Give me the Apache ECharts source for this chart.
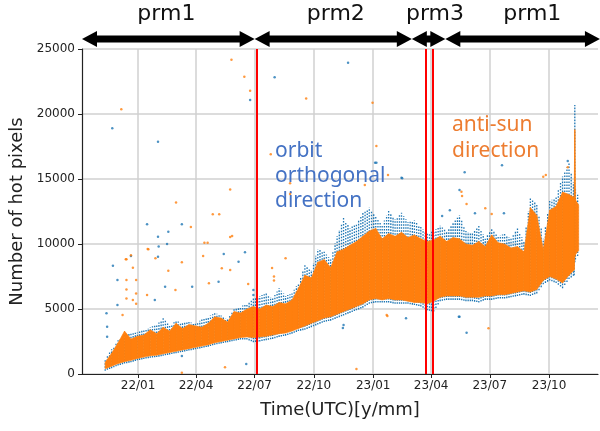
<!DOCTYPE html>
<html>
<head>
<meta charset="utf-8">
<script src="https://cdn.jsdelivr.net/npm/echarts@6/dist/echarts.min.js"></script>
<style>
  html, body { margin: 0; padding: 0; background: #fff; }
  #chart { width: 600px; height: 431px; }
</style>
</head>
<body>
<div id="chart"></div>
<script>
// dense band of points, read every ~10 days (low / high edge of each colour)
var bandDates = [
  '2021-11-11', '2021-11-21', '2021-12-01', '2021-12-11', '2021-12-21', '2021-12-31',
  '2022-01-10', '2022-01-20', '2022-01-30', '2022-02-09', '2022-02-19', '2022-03-01',
  '2022-03-11', '2022-03-21', '2022-03-31', '2022-04-10', '2022-04-20', '2022-04-30',
  '2022-05-10', '2022-05-20', '2022-05-30', '2022-06-09', '2022-06-19', '2022-06-29',
  '2022-07-09', '2022-07-19', '2022-07-29', '2022-08-08', '2022-08-18', '2022-08-28',
  '2022-09-07', '2022-09-17', '2022-09-27', '2022-10-07', '2022-10-17', '2022-10-27',
  '2022-11-06', '2022-11-16', '2022-11-26', '2022-12-06', '2022-12-16', '2022-12-26',
  '2023-01-05', '2023-01-15', '2023-01-25', '2023-02-04', '2023-02-14', '2023-02-24',
  '2023-03-06', '2023-03-16', '2023-03-26', '2023-04-05', '2023-04-15', '2023-04-25',
  '2023-05-05', '2023-05-15', '2023-05-25', '2023-06-04', '2023-06-14', '2023-06-24',
  '2023-07-04', '2023-07-14', '2023-07-24', '2023-08-03', '2023-08-13', '2023-08-23',
  '2023-09-02', '2023-09-12', '2023-09-22', '2023-10-02', '2023-10-12', '2023-10-22',
  '2023-11-01', '2023-11-09', '2023-11-10', '2023-11-11', '2023-11-16'
];
var orangeLow = [
  400, 600, 800, 950, 1050, 1200, 1300, 1400, 1450, 1550, 1650, 1750,
  1850, 1950, 2050, 2150, 2250, 2400, 2500, 2600, 2700, 2800, 2850, 2800,
  2850, 2900, 3000, 3100, 3150, 3300, 3500, 3700, 3900, 4100, 4300, 4400,
  4600, 4800, 5000, 5200, 5400, 5700, 5800, 5700, 5800, 5700, 5700, 5600,
  5500, 5500, 5400, 5600, 5900, 6000, 6000, 6000, 5900, 5900, 5900, 6000,
  6000, 6100, 6100, 6200, 6300, 6400, 6300, 6500, 7200, 7500, 7300, 7000,
  7600, 8000, 9000, 9200, 9500
];
var orangeHigh = [
  900, 1600, 2400, 3300, 2700, 2900, 3000, 3400, 3100, 3600, 3300, 3900,
  3500, 3800, 3700, 3600, 3900, 4400, 4300, 4000, 4800, 4700, 5000, 5200,
  5000, 5300, 5200, 5500, 5400, 5700, 6600, 7600, 7400, 8600, 8800, 8200,
  9400, 9600, 9900, 10200, 10600, 11000, 11200, 10400, 10800, 10600, 10900, 10500,
  10700, 10400, 10200, 10300, 10600, 10200, 10500, 10400, 10000, 9900, 10200, 9800,
  10700, 10100, 10000, 9700, 9800, 9400, 12800, 12200, 9600, 12600, 12900, 14000,
  13800, 13600, 18800, 13400, 13000
];
var blueLow = [
  250, 450, 650, 800, 900, 1050, 1150, 1250, 1300, 1400, 1500, 1600,
  1700, 1800, 1900, 2000, 2100, 2250, 2350, 2450, 2550, 2650, 2650, 2450,
  2500, 2600, 2700, 2850, 2950, 3100, 3300, 3400, 3600, 3800, 4000, 4100,
  4300, 4500, 4700, 4900, 5100, 5400, 5500, 5500, 5500, 5400, 5400, 5400,
  5300, 5200, 4900, 4800, 5600, 5700, 5700, 5700, 5600, 5600, 5500, 5700,
  5700, 5800, 5800, 5900, 6000, 6100, 6000, 6200, 6900, 7200, 7000, 6600,
  7300, 7600, 8600, 8800, 9200
];
var blueHigh = [
  1100, 1900, 2600, 3000, 3100, 3200, 3400, 3600, 3800, 4300, 3700, 4100,
  3900, 4000, 3900, 4200, 4400, 4700, 4500, 4200, 5000, 5200, 5400, 5800,
  6000, 6200, 5800, 6600, 6000, 6200, 7000, 8400, 8000, 9600, 9400, 8800,
  10600, 12000, 11200, 11600, 12400, 12800, 12200, 11400, 12600, 11900, 12400, 11700,
  11800, 11300, 10800, 11000, 11400, 11000, 11600, 12200, 11000, 10800, 11500, 10400,
  11200, 10600, 10800, 10400, 11200, 10200, 13600, 13000, 10400, 13300, 13600, 15200,
  16200, 14500, 20700, 14200, 13600
];

// isolated points away from the band
var blueOutliers = [
  ['2021-11-22', 18900], ['2022-02-01', 17870], ['2022-06-24', 21080], ['2022-08-01', 22820],
  ['2022-01-15', 11510], ['2022-03-10', 11510], ['2022-02-17', 10950], ['2022-02-01', 10560],
  ['2021-11-23', 8330], ['2021-11-30', 7230], ['2022-02-01', 9020], ['2022-02-15', 10000],
  ['2021-11-13', 4670], ['2021-11-14', 3640], ['2021-11-14', 2870], ['2021-11-30', 5300],
  ['2022-01-27', 5690], ['2022-02-12', 6720], ['2022-03-10', 1380], ['2022-02-02', 9800],
  ['2022-05-14', 9230], ['2022-06-16', 9360], ['2022-03-26', 6720], ['2022-05-06', 7100],
  ['2022-06-06', 8640], ['2022-06-29', 6460], ['2022-06-29', 6080], ['2022-06-18', 770],
  ['2021-12-21', 9080], ['2023-02-15', 15050], ['2023-01-04', 16250], ['2022-11-16', 3770],
  ['2022-11-15', 3540], ['2022-11-23', 23950], ['2023-01-06', 16250], ['2023-02-14', 15100],
  ['2023-05-23', 15510], ['2023-07-20', 16050], ['2023-10-30', 16380], ['2023-05-15', 14150],
  ['2023-06-08', 12360], ['2023-07-23', 12360], ['2023-04-18', 12150], ['2023-04-30', 12600],
  ['2023-05-15', 4410], ['2023-05-26', 3180], ['2023-05-14', 4400], ['2023-02-21', 4280]
];
var orangeOutliers = [
  ['2021-12-06', 20360], ['2022-05-26', 24180], ['2022-06-15', 22870], ['2022-06-24', 21790],
  ['2022-07-26', 16900], ['2022-05-24', 14200], ['2022-03-01', 13200], ['2022-04-27', 12280],
  ['2022-05-07', 12280], ['2022-03-24', 11300], ['2022-05-24', 10540], ['2022-05-27', 10620],
  ['2022-08-25', 14670], ['2022-08-25', 13850], ['2021-12-21', 9130], ['2021-12-14', 8820],
  ['2021-12-24', 8180], ['2022-01-17', 9590], ['2021-12-14', 7230], ['2021-12-29', 7230],
  ['2021-12-14', 6500], ['2021-12-14', 5800], ['2021-12-29', 6200], ['2021-12-29', 5400],
  ['2022-01-28', 8900], ['2022-03-10', 8600], ['2022-02-17', 7950], ['2021-12-08', 4540],
  ['2021-12-24', 5690], ['2022-01-15', 6080], ['2022-02-28', 6460], ['2022-03-10', 100],
  ['2022-01-16', 9620], ['2022-04-14', 10100], ['2022-04-19', 10100], ['2022-04-12', 9080],
  ['2022-04-21', 6980], ['2022-05-11', 8130], ['2022-05-24', 8000], ['2022-06-21', 6920],
  ['2022-05-16', 510], ['2021-12-13', 8820], ['2022-08-18', 8900], ['2022-07-28', 8150],
  ['2022-07-31', 7500], ['2022-07-31', 7200], ['2023-01-24', 15300], ['2022-12-19', 14540],
  ['2023-01-22', 4540], ['2022-09-19', 21200], ['2022-12-31', 20870], ['2023-01-06', 17540],
  ['2023-05-18', 14020], ['2023-05-19', 13700], ['2023-05-26', 13080], ['2023-07-04', 12310],
  ['2023-09-26', 15300], ['2023-10-30', 15900], ['2023-09-22', 15180], ['2023-06-24', 12750],
  ['2023-06-29', 3510], ['2022-12-06', 380], ['2023-01-23', 4460]
];

var tickDates = ['2022-01-01', '2022-04-01', '2022-07-01', '2022-10-01',
                 '2023-01-01', '2023-04-01', '2023-07-01', '2023-10-01'];
var changeDates = ['2022-07-04', '2023-03-23', '2023-04-04'];

// operation phases shown as arrows above the plot
var phaseNames = ['prm1', 'prm2', 'prm3', 'prm1'];
var phaseStart = ['2021-10-06', '2022-07-01', '2023-03-02', '2023-04-23'];
var phaseEnd = ['2022-07-01', '2023-03-02', '2023-04-23', '2023-12-19'];
var phaseLabelAt = ['2022-02-14', '2022-11-04', '2023-04-07', '2023-09-05'];

var xMin = '2021-10-06';
var xMax = '2023-12-16';

function t(s) { return Date.parse(s); }
function pad(n) { return n < 10 ? '0' + n : '' + n; }

var bandData = [];
for (var i = 0; i < bandDates.length - 1; i++) {
  bandData.push([t(bandDates[i]), t(bandDates[i + 1]),
    Math.min(blueLow[i], blueLow[i + 1]), Math.max(blueHigh[i], blueHigh[i + 1])]);
}
function pts(list) {
  return list.map(function (d) { return [t(d[0]), d[1]]; });
}

var BLUE = '#1f77b4';
var ORANGE = '#ff7f0e';
var FONT = 'DejaVu Sans';

// blue: dotted columns from its low edge to its high edge (orange is drawn over the middle)
function blueItem(params, api) {
  var i = params.dataIndex;
  var ta = t(bandDates[i]), tb = t(bandDates[i + 1]);
  var children = [];
  var x0 = api.coord([ta, 0])[0], x1 = api.coord([tb, 0])[0];
  for (var x = x0; x < x1; x += 2.2) {
    var f = (x - x0) / (x1 - x0);
    var lo = blueLow[i] + (blueLow[i + 1] - blueLow[i]) * f;
    var hi = blueHigh[i] + (blueHigh[i + 1] - blueHigh[i]) * f;
    var yl = api.coord([ta, lo])[1], yh = api.coord([ta, hi])[1];
    children.push({
      type: 'line',
      shape: { x1: x, y1: yl, x2: x, y2: yh },
      style: { stroke: BLUE, lineWidth: 1.3, lineDash: [1.6, 1.4] }
    });
  }
  return { type: 'group', children: children };
}

function orangeItem(params, api) {
  var i = params.dataIndex;
  var ta = t(bandDates[i]), tb = t(bandDates[i + 1]);
  return {
    type: 'polygon',
    shape: { points: [api.coord([ta, orangeLow[i]]), api.coord([tb, orangeLow[i + 1]]),
                      api.coord([tb, orangeHigh[i + 1]]), api.coord([ta, orangeHigh[i]])] },
    style: { fill: ORANGE, stroke: ORANGE, lineWidth: 0.6 }
  };
}

var chart = echarts.init(document.getElementById('chart'));
var option = {
  animation: false,
  grid: { left: 82, right: 2, top: 49, bottom: 57, outerBoundsMode: 'none' },
  xAxis: {
    type: 'value',
    min: t(xMin),
    max: t(xMax),
    name: 'Time(UTC)[y/mm]',
    nameLocation: 'middle',
    nameGap: 27,
    nameTextStyle: { fontFamily: FONT, fontSize: 18, color: '#222' },
    axisLine: { show: true, onZero: false, lineStyle: { color: '#222', width: 1.2 } },
    axisTick: { show: true, length: 4, lineStyle: { color: '#222' }, customValues: tickDates.map(t) },
    axisLabel: {
      customValues: tickDates.map(t),
      margin: 6,
      fontFamily: FONT, fontSize: 12, color: '#222',
      formatter: function (v) {
        var d = new Date(v);
        return String(d.getUTCFullYear()).slice(2) + '/' + pad(d.getUTCMonth() + 1);
      }
    },
    splitLine: { show: true, lineStyle: { color: '#d0d0d0', width: 1.5 } }
  },
  yAxis: {
    type: 'value',
    min: 0,
    max: 25000,
    interval: 5000,
    name: 'Number of hot pixels',
    nameLocation: 'middle',
    nameGap: 50,
    nameTextStyle: { fontFamily: FONT, fontSize: 18, color: '#222' },
    axisLine: { show: true, lineStyle: { color: '#222', width: 1.2 } },
    axisTick: { show: true, length: 4, lineStyle: { color: '#222' } },
    axisLabel: {
      margin: 7, fontFamily: FONT, fontSize: 12, color: '#222',
      formatter: function (v) { return String(v); }
    },
    splitLine: { show: true, lineStyle: { color: '#d0d0d0', width: 1.5 } }
  },
  series: [
    { type: 'custom', renderItem: blueItem, data: bandData, encode: { x: [0, 1], y: [2, 3] }, silent: true },
    { type: 'scatter', data: pts(blueOutliers), symbolSize: 2.5, itemStyle: { color: BLUE }, silent: true },
    { type: 'custom', renderItem: orangeItem, data: bandData, encode: { x: [0, 1], y: [2, 3] }, silent: true },
    { type: 'scatter', data: pts(orangeOutliers), symbolSize: 2.5, itemStyle: { color: ORANGE }, silent: true },
    {
      type: 'scatter', data: [], silent: true,
      markLine: {
        silent: true, symbol: ['none', 'none'], animation: false,
        label: { show: false },
        lineStyle: { color: '#ff0000', width: 2, type: 'solid' },
        data: changeDates.map(function (d) { return { xAxis: t(d) }; })
      }
    }
  ]
};
chart.setOption(option);

// arrows and phase names above the plot, placed through the x axis scale
function px(s) { return chart.convertToPixel({ xAxisIndex: 0 }, t(s)); }
function arrow(x0, x1, y) {
  var h = 15, w = 8, s = 3.5;
  return [[x0, y], [x0 + h, y - w], [x0 + h, y - s], [x1 - h, y - s], [x1 - h, y - w], [x1, y],
          [x1 - h, y + w], [x1 - h, y + s], [x0 + h, y + s], [x0 + h, y + w]];
}
var graphics = [];
for (var k = 0; k < phaseNames.length; k++) {
  graphics.push({
    type: 'polygon', silent: true,
    shape: { points: arrow(px(phaseStart[k]), px(phaseEnd[k]), 39) },
    style: { fill: '#000' }
  });
  graphics.push({
    type: 'text', silent: true, x: px(phaseLabelAt[k]), y: 14,
    style: { text: phaseNames[k], fontFamily: FONT, fontSize: 22, fill: '#111', align: 'center', verticalAlign: 'middle' }
  });
}
graphics.push({
  type: 'text', silent: true, left: 275, top: 139,
  style: { text: 'orbit\northogonal\ndirection', fontFamily: 'Noto Sans', fontSize: 21, lineHeight: 25, fill: '#4472c4' }
});
graphics.push({
  type: 'text', silent: true, left: 452, top: 112,
  style: { text: 'anti-sun\ndirection', fontFamily: 'Noto Sans', fontSize: 21, lineHeight: 26, fill: '#ed7d31' }
});
chart.setOption({ graphic: graphics });

window.addEventListener('resize', function () { chart.resize(); });
</script>
</body>
</html>
